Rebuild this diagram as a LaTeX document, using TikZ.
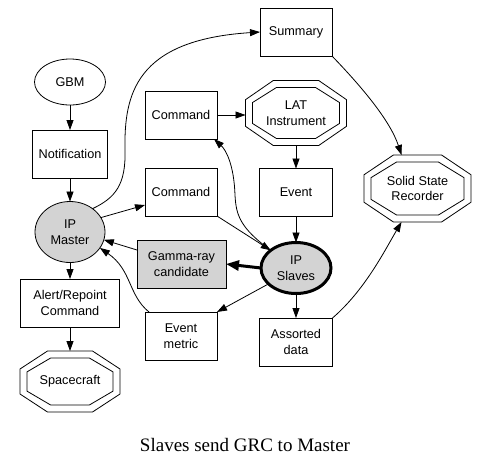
\documentclass[tikz,border=0pt]{standalone}
\usepackage{fontspec}
\setmainfont{Liberation Sans}
\newfontfamily\capfont{Liberation Serif}
\usetikzlibrary{arrows.meta,calc,shapes.geometric}
\definecolor{gfill}{RGB}{211,211,211}
\newcommand\octo[3]{\foreach \gap in {0,7}{\draw[line width=0.8pt,shift={(#1)}] ({-0.45*(#2-\gap)},{-(#3-\gap)}) -- ({0.45*(#2-\gap)},{-(#3-\gap)}) -- ({#2-\gap},{-0.41*(#3-\gap)}) -- ({#2-\gap},{0.41*(#3-\gap)}) -- ({0.45*(#2-\gap)},{#3-\gap}) -- ({-0.45*(#2-\gap)},{#3-\gap}) -- ({-(#2-\gap)},{0.41*(#3-\gap)}) -- ({-(#2-\gap)},{-0.41*(#3-\gap)}) -- cycle;}}
\begin{document}
\begin{tikzpicture}[x=1pt,y=-1pt,
  every node/.style={font=\fontsize{12.7}{15.5}\selectfont, align=center, inner sep=0pt, outer sep=0pt},
  box/.style={draw, line width=0.8pt, minimum width=72pt, minimum height=48pt},
  oval/.style={draw, ellipse, line width=0.8pt},
  octbox/.style={minimum width=#1},
  conn/.style={line width=0.8pt, -{Triangle[length=10pt,width=7pt]}},
  thickconn/.style={line width=3pt, -{Triangle[length=13pt,width=10pt]}},
]
\useasboundingbox (0,0) rectangle (487,467);
\fill[white] (0,0) rectangle (487,467);

% left column
\node[oval, minimum width=71pt, minimum height=46pt] (gbm) at (70,82) {GBM};
\node[box, minimum width=75pt] (notif) at (70,154) {Notification};
\node[oval, fill=gfill, minimum width=70pt, minimum height=61pt] (ipm) at (70,232) {IP\\Master};
\node[box, minimum width=99pt] (alert) at (70,303) {Alert/Repoint\\Command};
\node[minimum width=100pt, minimum height=61pt] (sc) at (70,381.5) {Spacecraft};
\octo{sc}{50}{30.5}

% middle column
\node[box] (cmd1) at (181,115) {Command};
\node[box] (cmd2) at (181,192) {Command};
\node[box, fill=gfill, minimum width=89pt] (grc) at (181.5,264) {Gamma-ray\\candidate};
\node[box] (em) at (181,336) {Event\\metric};

% right-middle column
\node[box] (sum) at (296,32) {Summary};
\node[minimum width=101pt, minimum height=65pt] (lat) at (296,113) {LAT\\Instrument};
\octo{lat}{50.5}{32.5}
\node[box, minimum width=73pt] (ev) at (296,192.5) {Event};
\node[oval, fill=gfill, line width=3pt, minimum width=70pt, minimum height=51pt] (ips) at (296,268) {IP\\Slaves};
\node[box, minimum width=73pt] (ad) at (296,342) {Assorted\\data};

% right
\node[minimum width=107pt, minimum height=67pt] (ssr) at (417.5,188.5) {Solid State\\Recorder};
\octo{ssr}{53.5}{33.5}

% caption
\node[font=\capfont\fontsize{19}{22}\selectfont] (cap) at (245,444.5) {Slaves send GRC to Master};

% connectors
\draw[conn] (gbm.south) -- (notif.north);
\draw[conn] (notif.south) -- (ipm.north);
\draw[conn] (ipm.south) -- (alert.north);
\draw[conn] (alert.south) -- (sc.north);
\draw[conn] (cmd1.east) -- (cmd1.east -| lat.west);
\draw[conn] (lat.south) -- (ev.north);
\draw[conn] (ev.south) -- (ips.north);
\draw[conn] (ips.south) -- (ad.north);
\draw[conn] (ipm.46) .. controls (115,198) and (126,185) .. (125,150)
   .. controls (124,95) and (135,40) .. (sum.west);
\draw[conn] (sum.south east) .. controls (360,85) and (390,120) .. ([xshift=-16pt]ssr.north);
\draw[conn] (ad.north east) .. controls (365,290) and (385,250) .. ([xshift=-16pt]ssr.south);
\draw[conn] (ips.145) .. controls (240,228) and (236,215) .. (235,195)
   .. controls (234,165) and (226,150) .. ([xshift=-3pt]cmd1.south east);
\draw[conn] (cmd2.south east) -- (ips.145);
\draw[conn] (ipm.25) -- ([yshift=-13pt]cmd2.west);
\draw[thickconn] (ips.west) -- (grc.east);
\draw[conn] ([yshift=14pt]grc.west) -- (ipm.-13);
\draw[conn] ([xshift=4pt]em.north west) .. controls (128,295) and (132,270) .. (ipm.-28);
\draw[conn] (ips.210) -- (em.north east);
\end{tikzpicture}
\end{document}
